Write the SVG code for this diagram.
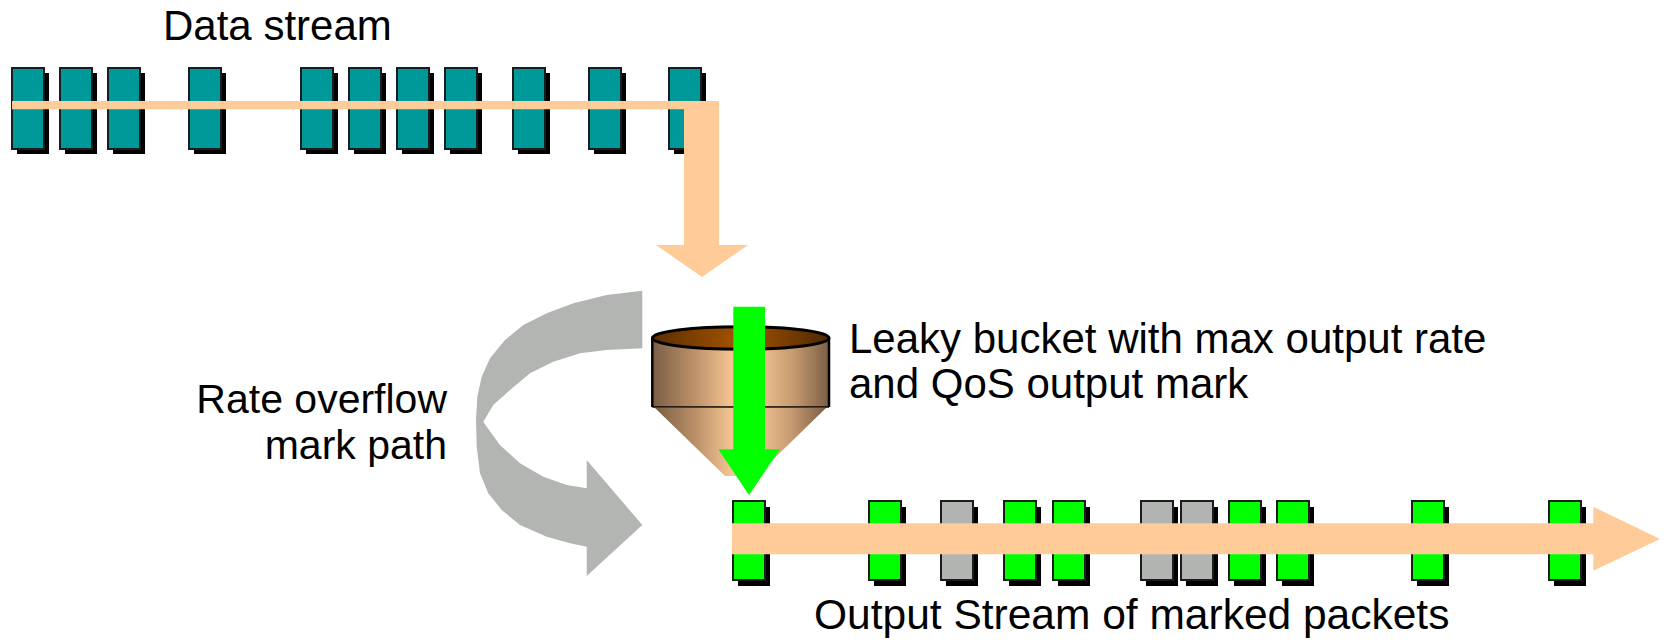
<svg xmlns="http://www.w3.org/2000/svg" width="1664" height="640" viewBox="0 0 1664 640">
  <defs>
    <style>
      .lbl { font-family: "Liberation Sans", Arial, sans-serif; font-size: 42px; fill: #000; }
      .shadow { fill: #000; }
      .pkt { stroke: #1c1c1c; stroke-width: 2; }
      .teal { fill: #009999; }
      .green { fill: #00FF00; }
      .grey { fill: #B2B4B2; }
      .flow { fill: #FFCC99; }
    </style>
    <linearGradient id="bucketBody" x1="0" y1="0" x2="1" y2="0">
      <stop offset="0" stop-color="#7A5E45"/>
      <stop offset="0.22" stop-color="#B78D66"/>
      <stop offset="0.45" stop-color="#F5C593"/>
      <stop offset="0.6" stop-color="#F3C392"/>
      <stop offset="0.8" stop-color="#C69A70"/>
      <stop offset="1" stop-color="#7A5E45"/>
    </linearGradient>
    <linearGradient id="bucketTop" x1="0" y1="0" x2="1" y2="0">
      <stop offset="0" stop-color="#5A2E00"/>
      <stop offset="0.5" stop-color="#A65400"/>
      <stop offset="1" stop-color="#4E2800"/>
    </linearGradient>
  </defs>

  <rect width="1664" height="640" fill="#FFFFFF"/>

  <!-- incoming packets -->
  <g id="input-packets">
    <g transform="translate(12,68)"><rect class="shadow" x="5" y="5" width="32" height="81"/><rect class="pkt teal" width="32" height="81"/></g>
    <g transform="translate(60,68)"><rect class="shadow" x="5" y="5" width="32" height="81"/><rect class="pkt teal" width="32" height="81"/></g>
    <g transform="translate(108,68)"><rect class="shadow" x="5" y="5" width="32" height="81"/><rect class="pkt teal" width="32" height="81"/></g>
    <g transform="translate(189,68)"><rect class="shadow" x="5" y="5" width="32" height="81"/><rect class="pkt teal" width="32" height="81"/></g>
    <g transform="translate(301,68)"><rect class="shadow" x="5" y="5" width="32" height="81"/><rect class="pkt teal" width="32" height="81"/></g>
    <g transform="translate(349,68)"><rect class="shadow" x="5" y="5" width="32" height="81"/><rect class="pkt teal" width="32" height="81"/></g>
    <g transform="translate(397,68)"><rect class="shadow" x="5" y="5" width="32" height="81"/><rect class="pkt teal" width="32" height="81"/></g>
    <g transform="translate(445,68)"><rect class="shadow" x="5" y="5" width="32" height="81"/><rect class="pkt teal" width="32" height="81"/></g>
    <g transform="translate(513,68)"><rect class="shadow" x="5" y="5" width="32" height="81"/><rect class="pkt teal" width="32" height="81"/></g>
    <g transform="translate(589,68)"><rect class="shadow" x="5" y="5" width="32" height="81"/><rect class="pkt teal" width="32" height="81"/></g>
    <g transform="translate(669,68)"><rect class="shadow" x="5" y="5" width="32" height="81"/><rect class="pkt teal" width="32" height="81"/></g>
  </g>

  <!-- leaky bucket -->
  <g id="bucket">
    <path d="M655,408 L826,408 L756,476 L725,476 Z" fill="url(#bucketBody)"/>
    <rect x="652.3" y="338" width="176.7" height="69" fill="url(#bucketBody)"/>
    <line x1="652.3" y1="338" x2="652.3" y2="407" stroke="#000" stroke-width="2.5"/>
    <line x1="829" y1="338" x2="829" y2="407" stroke="#000" stroke-width="2.5"/>
    <line x1="652.3" y1="407" x2="829" y2="407" stroke="#000" stroke-width="1.5"/>
    <ellipse cx="740.7" cy="338" rx="88.3" ry="11.3" fill="url(#bucketTop)" stroke="#000" stroke-width="3"/>
  </g>

  <!-- output packets -->
  <g id="output-packets">
    <g transform="translate(733,501)"><rect class="shadow" x="5" y="6" width="32" height="79"/><rect class="pkt green" width="32" height="79"/></g>
    <g transform="translate(869,501)"><rect class="shadow" x="5" y="6" width="32" height="79"/><rect class="pkt green" width="32" height="79"/></g>
    <g transform="translate(941,501)"><rect class="shadow" x="5" y="6" width="32" height="79"/><rect class="pkt grey" width="32" height="79"/></g>
    <g transform="translate(1004,501)"><rect class="shadow" x="5" y="6" width="32" height="79"/><rect class="pkt green" width="32" height="79"/></g>
    <g transform="translate(1053,501)"><rect class="shadow" x="5" y="6" width="32" height="79"/><rect class="pkt green" width="32" height="79"/></g>
    <g transform="translate(1141,501)"><rect class="shadow" x="5" y="6" width="32" height="79"/><rect class="pkt grey" width="32" height="79"/></g>
    <g transform="translate(1181,501)"><rect class="shadow" x="5" y="6" width="32" height="79"/><rect class="pkt grey" width="32" height="79"/></g>
    <g transform="translate(1229,501)"><rect class="shadow" x="5" y="6" width="32" height="79"/><rect class="pkt green" width="32" height="79"/></g>
    <g transform="translate(1277,501)"><rect class="shadow" x="5" y="6" width="32" height="79"/><rect class="pkt green" width="32" height="79"/></g>
    <g transform="translate(1412,501)"><rect class="shadow" x="5" y="6" width="32" height="79"/><rect class="pkt green" width="32" height="79"/></g>
    <g transform="translate(1549,501)"><rect class="shadow" x="5" y="6" width="32" height="79"/><rect class="pkt green" width="32" height="79"/></g>
  </g>

  <!-- flow arrows -->
  <g id="connectors">
    <polygon class="flow" points="12,101 719,101 719,245 748,245 702,277 656,245 684,245 684,109.3 12,109.3"/>
    <polygon fill="#00FF00" points="733.3,306.7 765,306.7 765,449.3 780,449.3 749,495 718.3,449.3 733.3,449.3"/>
    <polygon class="flow" points="732,523.3 1593.3,523.3 1593.3,506.7 1660,539 1593.3,570.7 1593.3,554.3 732,554.3"/>
    <polygon fill="#B2B5B2" points="642.3,290.7 606.7,295 573.3,303.3 546.7,313.3 523.3,325 505,340 490,358.3 481.7,376.7 477.3,396.7 476,420 476.7,446.7 480,473.3 488.3,493.3 501.7,510 520,525 546.7,536.7 570,543.3 586.7,546.7 586.7,576 642.3,525 586.7,460 586.7,488.3 566.7,485 543.3,476.7 520,463.3 500,445 486.7,426.7 483.3,421.7 493.3,405 510,390 530,373.3 553.3,361.7 580,353.3 606.7,350 642.3,348.3"/>
  </g>

  <!-- labels -->
  <g id="labels">
    <text class="lbl" x="163" y="39.5" font-size="41.5">Data stream</text>
    <text class="lbl" x="849" y="352.7">Leaky bucket with max output rate</text>
    <text class="lbl" x="849" y="397.5">and QoS output mark</text>
    <text class="lbl" x="447" y="413.3" text-anchor="end" style="font-size:41px">Rate overflow</text>
    <text class="lbl" x="447" y="459.3" text-anchor="end" style="font-size:41px">mark path</text>
    <text class="lbl" x="814" y="629.3" style="font-size:42.5px">Output Stream of marked packets</text>
  </g>
</svg>
